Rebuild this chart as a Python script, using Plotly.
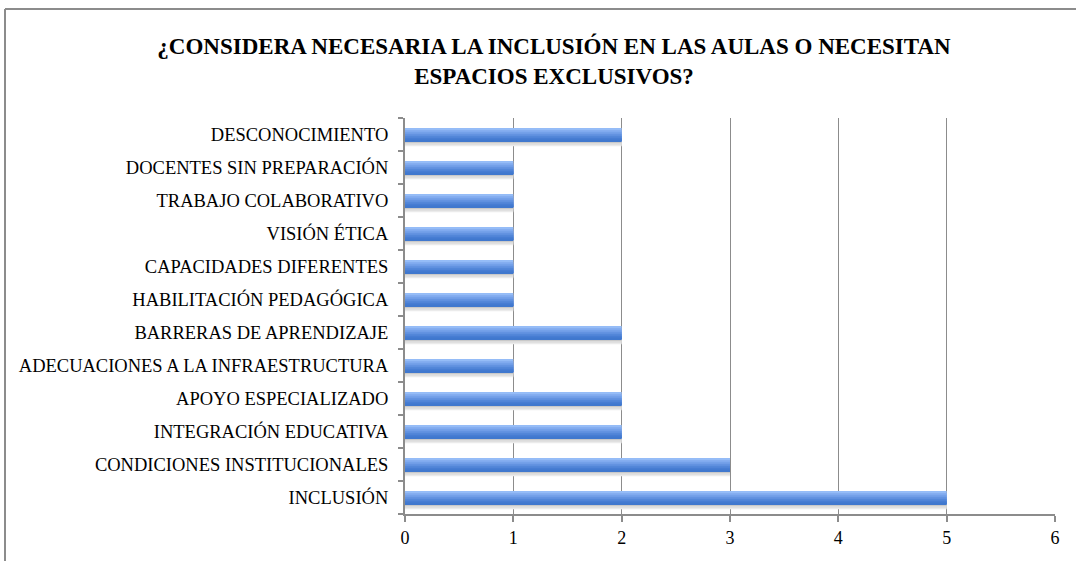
import plotly.graph_objects as go

categories = [
    "INCLUSIÓN",
    "CONDICIONES INSTITUCIONALES",
    "INTEGRACIÓN EDUCATIVA",
    "APOYO ESPECIALIZADO",
    "ADECUACIONES A LA INFRAESTRUCTURA",
    "BARRERAS DE APRENDIZAJE",
    "HABILITACIÓN PEDAGÓGICA",
    "CAPACIDADES DIFERENTES",
    "VISIÓN ÉTICA",
    "TRABAJO COLABORATIVO",
    "DOCENTES SIN PREPARACIÓN",
    "DESCONOCIMIENTO",
]
values = [5, 3, 2, 2, 1, 2, 1, 1, 1, 1, 1, 2]
x_ticks = [0, 1, 2, 3, 4, 5, 6]
title_lines = ["¿CONSIDERA NECESARIA LA INCLUSIÓN EN LAS AULAS O NECESITAN",
               "ESPACIOS EXCLUSIVOS?"]

FONT = "Liberation Serif"
BAR_W = 0.40
BOTTOM = -BAR_W / 2

fig = go.Figure()

# soft shadow below the bars
for frac, col in [(0.42, "#EBEBEB"), (0.30, "#DCDCDC"), (0.17, "#C9C9C9")]:
    fig.add_trace(go.Bar(
        y=categories, x=values, orientation="h",
        width=BAR_W * frac, offset=BOTTOM - BAR_W * frac + 0.01,
        marker=dict(color=col, line=dict(width=0)),
        hoverinfo="skip", showlegend=False,
    ))

# gradient: light top, darker bottom (overlaid layers anchored at bar bottom)
grad = [
    (1.00, "#95BCF7"),
    (0.85, "#85AEF0"),
    (0.70, "#74A1E9"),
    (0.55, "#6393E1"),
    (0.40, "#5387D9"),
    (0.25, "#477DD3"),
    (0.12, "#4078CE"),
]
for frac, col in grad:
    fig.add_trace(go.Bar(
        y=categories, x=values, orientation="h",
        width=BAR_W * frac, offset=BOTTOM,
        marker=dict(color=col, line=dict(width=0)),
        hoverinfo="skip", showlegend=False,
    ))

# outer chart frame (left and top edges visible)
fig.add_shape(type="line", xref="paper", yref="paper",
              x0=(5 - 405) / 650, x1=1.1, y0=(514 - 9) / 396, y1=(514 - 9) / 396,
              line=dict(color="#8C8C8C", width=2))
fig.add_shape(type="line", xref="paper", yref="paper",
              x0=(5 - 405) / 650, x1=(5 - 405) / 650, y0=(514 - 9) / 396, y1=-0.2,
              line=dict(color="#8C8C8C", width=2))

fig.update_layout(
    width=1076, height=561,
    margin=dict(l=405, r=21, t=118, b=47),
    paper_bgcolor="white", plot_bgcolor="white",
    barmode="overlay",
    title=dict(text="<b>" + "<br>".join(title_lines) + "</b>",
               x=554 / 1076, xanchor="center", y=1 - 54 / 561, yanchor="middle",
               font=dict(family=FONT, size=23, color="black")),
    font=dict(family=FONT, size=18.5, color="black"),
    xaxis=dict(range=[0, 6], tickvals=x_ticks, showgrid=True,
               gridcolor="#8C8C8C", gridwidth=1, zeroline=False,
               showline=True, linecolor="#8C8C8C", linewidth=2,
               ticks="outside", ticklen=6, tickcolor="#8C8C8C", tickwidth=2,
               tickfont=dict(family=FONT, size=18)),
    yaxis=dict(type="category", categoryorder="array", categoryarray=categories,
               showgrid=False, zeroline=False,
               showline=True, linecolor="#8C8C8C", linewidth=2,
               ticks="outside", ticklen=5, tickcolor="#8C8C8C", tickwidth=2,
               tickson="boundaries", ticklabelstandoff=11,
               tickfont=dict(family=FONT, size=18.5)),
)

fig.write_html("out.html")
